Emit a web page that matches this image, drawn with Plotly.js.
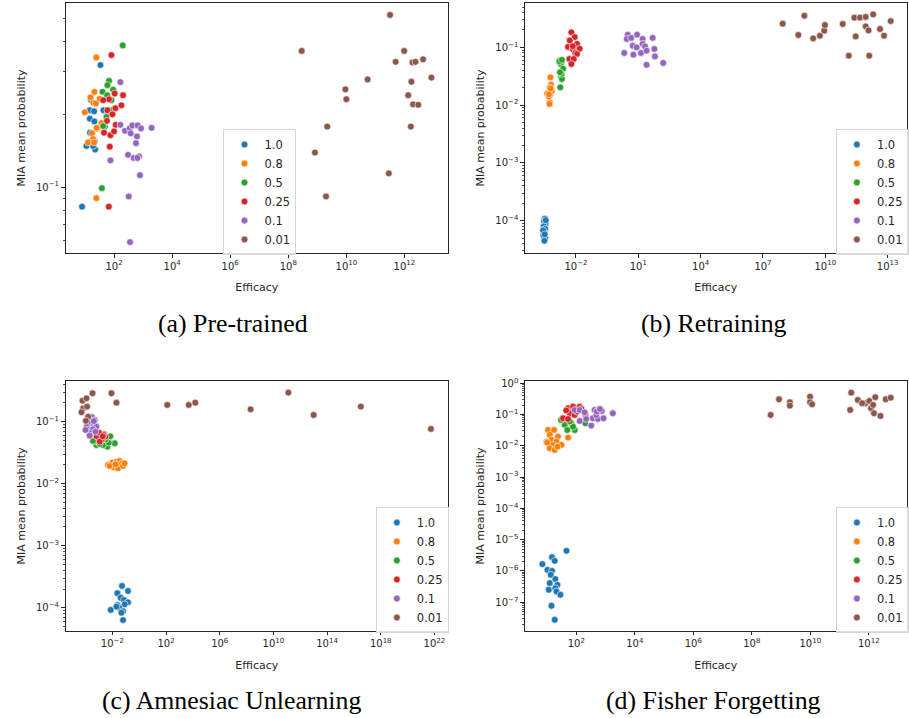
<!DOCTYPE html>
<html><head><meta charset="utf-8">
<script src="https://cdn.plot.ly/plotly-3.0.1.min.js"></script>
<style>html,body{margin:0;padding:0;background:#fff}#chart{width:909px;height:718px}</style>
</head><body><div id="chart"></div>
<script>
// ---------- series labels ----------
const seriesNames = ['1.0', '0.8', '0.5', '0.25', '0.1', '0.01'];

// ---------- (a) Pre-trained ----------
const pre_x_1_0 = [34, 14.6, 20.5, 14.6, 21, 16.6, 11.2, 22.3, 7.9, 43, 15.8, 19, 14.8, 21.5];
const pre_y_1_0 = [0.32, 0.208, 0.206, 0.192, 0.187, 0.167, 0.148, 0.143, 0.083, 0.208, 0.23, 0.148, 0.168, 0.155];
const pre_x_0_8 = [24.6, 21, 15.4, 19.4, 23.5, 9.8, 32, 27, 17.5, 19, 12.8, 20.4, 24.6, 37, 25, 57];
const pre_y_0_8 = [0.344, 0.248, 0.235, 0.223, 0.222, 0.204, 0.232, 0.175, 0.167, 0.158, 0.153, 0.153, 0.090, 0.184, 0.176, 0.199];
const pre_x_0_5 = [199, 67, 59, 40, 93, 81, 55, 48, 38, 71, 42, 85, 58];
const pre_y_0_5 = [0.386, 0.275, 0.264, 0.248, 0.253, 0.229, 0.195, 0.178, 0.099, 0.208, 0.179, 0.208, 0.24];
const pre_x_0_25 = [81, 105, 204, 67, 42, 179, 111, 59, 57, 114, 45, 75, 100, 71, 66, 88];
const pre_y_0_25 = [0.352, 0.244, 0.24, 0.231, 0.229, 0.218, 0.212, 0.208, 0.188, 0.181, 0.168, 0.164, 0.170, 0.147, 0.083, 0.2];
const pre_x_0_1 = [165, 165, 239, 346, 427, 650, 850, 1960, 373, 617, 571, 303, 473, 723, 634, 780, 75, 320, 355];
const pre_y_0_1 = [0.272, 0.181, 0.171, 0.175, 0.18, 0.18, 0.175, 0.176, 0.167, 0.162, 0.152, 0.136, 0.132, 0.134, 0.132, 0.112, 0.129, 0.0915, 0.0592];
const pre_x_0_01 = [3.2e11, 2.9e8, 9.8e11, 5.0e11, 1.9e12, 2.4e12, 4.4e12, 5.4e10, 8.5e12, 1.74e12, 9.3e9, 1.0e10, 1.35e12, 2.0e12, 3.0e12, 2.2e9, 1.66e12, 8.3e8, 2.9e11, 2.0e9];
const pre_y_0_01 = [0.516, 0.366, 0.366, 0.33, 0.328, 0.33, 0.338, 0.279, 0.284, 0.273, 0.254, 0.231, 0.240, 0.22, 0.219, 0.178, 0.178, 0.139, 0.114, 0.0915];

// ---------- (b) Retraining ----------
const ret_x_1_0 = [3.2e-4, 2.9e-4, 3.4e-4, 2.8e-4, 3.3e-4, 3.1e-4, 2.7e-4, 3.3e-4, 3.0e-4, 3.5e-4, 2.6e-4, 3.1e-4];
const ret_y_1_0 = [1.09e-4, 9.8e-5, 8.9e-5, 8.0e-5, 7.2e-5, 6.2e-5, 5.5e-5, 5.0e-5, 4.5e-5, 1.02e-4, 6.8e-5, 5.8e-5];
const ret_x_0_8 = [5.9e-4, 6.2e-4, 5.3e-4, 7.1e-4, 4.1e-4, 5.9e-4, 5.5e-4, 5.3e-4, 6.6e-4, 4.9e-4, 5.0e-4, 6.0e-4];
const ret_y_0_8 = [0.0303, 0.0227, 0.0199, 0.0179, 0.0158, 0.0152, 0.0112, 0.0105, 0.0174, 0.0142, 0.0155, 0.0195];
const ret_x_0_5 = [1.65e-3, 2.1e-3, 1.85e-3, 2.4e-3, 1.9e-3, 2.1e-3, 1.75e-3, 1.6e-3, 2.0e-3, 2.1e-3, 1.7e-3];
const ret_y_0_5 = [0.0596, 0.0573, 0.0515, 0.0428, 0.0316, 0.0284, 0.0204, 0.057, 0.0347, 0.061, 0.037];
const ret_x_0_25 = [6.0e-3, 8.7e-3, 5.0e-3, 1.12e-2, 4.1e-3, 6.9e-3, 1.5e-2, 9.3e-3, 1.12e-2, 4.8e-3, 7.8e-3, 6.0e-3, 7.0e-3];
const ret_y_0_25 = [0.182, 0.151, 0.132, 0.115, 0.102, 0.094, 0.095, 0.080, 0.077, 0.063, 0.063, 0.0516, 0.105];
const ret_x_0_1 = [3.1, 8.7, 2.8, 4.5, 16.2, 49, 5.4, 16.2, 8.3, 21, 59, 2.1, 5.8, 13.5, 25, 63, 25, 158];
const ret_y_0_1 = [0.166, 0.166, 0.14, 0.146, 0.14, 0.146, 0.107, 0.115, 0.1, 0.104, 0.094, 0.08, 0.0748, 0.08, 0.0877, 0.0698, 0.05, 0.0537];
const ret_x_0_01 = [8.9e7, 9.8e8, 5.0e8, 2.6e9, 5.5e9, 8.9e9, 9.6e9, 6.9e10, 2.5e11, 4.7e11, 8.8e11, 2.0e12, 8.8e11, 1.2e12, 2.9e11, 4.3e12, 6.7e12, 1.4e13, 1.35e11, 1.3e12];
const ret_y_0_01 = [0.257, 0.353, 0.164, 0.143, 0.159, 0.195, 0.244, 0.254, 0.327, 0.327, 0.336, 0.372, 0.231, 0.197, 0.155, 0.208, 0.159, 0.286, 0.0718, 0.0718];

// ---------- (c) Amnesiac Unlearning ----------
const amn_x_1_0 = [0.052, 0.145, 0.0235, 0.041, 0.073, 0.145, 0.0235, 0.082, 7.5e-3, 0.035, 0.062, 0.062, 0.02, 0.047];
const amn_y_1_0 = [2.24e-4, 1.86e-4, 1.71e-4, 1.45e-4, 1.33e-4, 1.22e-4, 1.10e-4, 1.13e-4, 9.2e-5, 9.8e-5, 8.8e-5, 6.3e-5, 1.04e-4, 8.3e-5];
const amn_x_0_8 = [4.7e-3, 0.01, 0.02, 0.035, 0.052, 0.013, 0.026, 0.061, 6.3e-3, 0.081, 0.017];
const amn_y_0_8 = [0.02, 0.0218, 0.0226, 0.0232, 0.0213, 0.0184, 0.0177, 0.0193, 0.0193, 0.0213, 0.0205];
const amn_x_0_5 = [0.0148, 4.3e-3, 3.6e-3, 2.0e-3, 6.4e-4, 5.5e-4, 5.3e-3, 1.14e-3, 3.2e-3, 3.6e-4, 7.0e-3];
const amn_y_0_5 = [0.0448, 0.0395, 0.0494, 0.042, 0.042, 0.0478, 0.0458, 0.0437, 0.052, 0.0489, 0.058];
const amn_x_0_25 = [1.35e-3, 2.4e-3, 8.5e-4, 1.7e-3, 6.4e-4, 1.14e-3, 3.0e-3, 2.2e-3, 1.0e-3, 1.9e-3];
const amn_y_0_25 = [0.0634, 0.0627, 0.056, 0.052, 0.0588, 0.0478, 0.0573, 0.061, 0.0665, 0.058];
const amn_x_0_1 = [3.0e-4, 4.9e-4, 2.0e-4, 4.3e-4, 1.2e-4, 6.4e-4, 1.7e-4, 3.6e-4, 2.4e-4, 5.5e-4, 1.0e-4, 2.0e-4, 4.1e-4];
const amn_y_0_1 = [0.118, 0.106, 0.0964, 0.0908, 0.083, 0.083, 0.0735, 0.0754, 0.065, 0.069, 0.0735, 0.0594, 0.102];
const amn_x_0_01 = [5.9e-5, 1.17e-4, 3.3e-4, 8.5e-3, 0.02, 6.6e-5, 1.3e-4, 5.0e-5, 1.55e-4, 1.05e-4, 122, 4.9e3, 1.5e4, 2.0e8, 1.3e11, 1.0e13, 3.3e16, 5.5e21];
const amn_y_0_01 = [0.218, 0.238, 0.287, 0.287, 0.202, 0.164, 0.175, 0.142, 0.12, 0.103, 0.186, 0.186, 0.202, 0.158, 0.294, 0.128, 0.175, 0.0762];

// ---------- (d) Fisher Forgetting ----------
const fis_x_1_0 = [46, 14.7, 18.2, 6.9, 10.3, 14.7, 13.3, 19.1, 12.3, 22.5, 11.4, 19.1, 20.9, 28.5, 14.1, 18.2];
const fis_y_1_0 = [4.4e-6, 2.75e-6, 2.1e-6, 1.65e-6, 1.08e-6, 1.0e-6, 7.5e-7, 5.5e-7, 4.1e-7, 3.6e-7, 2.5e-7, 2.8e-7, 2.2e-7, 1.73e-7, 7.7e-8, 2.75e-8];
const fis_x_0_8 = [10.8, 17.3, 12.3, 23.5, 14.1, 9.5, 20.9, 31, 15.9, 12.3, 18.2, 52, 22.5, 10];
const fis_y_0_8 = [0.0322, 0.0322, 0.0223, 0.0197, 0.0155, 0.0136, 0.0136, 0.0107, 0.0107, 0.0084, 0.0074, 0.0183, 0.0094, 0.0127];
const fis_x_0_5 = [35, 40, 68, 49, 88, 203, 77, 30, 60];
const fis_y_0_5 = [0.072, 0.0465, 0.0527, 0.032, 0.032, 0.0527, 0.041, 0.067, 0.06];
const fis_x_0_25 = [52, 77, 130, 59, 35, 52, 88, 203, 105, 45, 150];
const fis_y_0_25 = [0.159, 0.179, 0.179, 0.110, 0.076, 0.072, 0.097, 0.097, 0.124, 0.135, 0.15];
const fis_x_0_1 = [88, 130, 192, 420, 575, 740, 1770, 130, 218, 367, 547, 850, 324, 480, 500, 640];
const fis_y_0_1 = [0.14, 0.14, 0.118, 0.14, 0.14, 0.13, 0.110, 0.0625, 0.072, 0.076, 0.072, 0.076, 0.0442, 0.097, 0.124, 0.15];
const fis_x_0_01 = [4.4e8, 8.5e8, 2.0e9, 2.0e9, 9.8e9, 9.8e9, 1.15e10, 2.5e11, 4.2e11, 2.3e11, 7.6e11, 1.04e12, 1.18e12, 1.4e12, 1.66e12, 1.5e12, 2.5e12, 3.8e12, 5.6e12, 5.9e11];
const fis_y_0_01 = [0.097, 0.308, 0.247, 0.192, 0.373, 0.247, 0.213, 0.5, 0.292, 0.14, 0.23, 0.272, 0.159, 0.203, 0.357, 0.11, 0.09, 0.308, 0.347, 0.23];

// ---------- tick labels ----------
const a_xtick_vals = [1e2, 1e4, 1e6, 1e8, 1e10, 1e12];
const a_xtick_text = ['10<sup>2</sup>', '10<sup>4</sup>', '10<sup>6</sup>', '10<sup>8</sup>', '10<sup>10</sup>', '10<sup>12</sup>'];
const a_ytick_vals = [1e-1];
const a_ytick_text = ['10<sup>−1</sup>'];
const b_xtick_vals = [1e-2, 1e1, 1e4, 1e7, 1e10, 1e13];
const b_xtick_text = ['10<sup>−2</sup>', '10<sup>1</sup>', '10<sup>4</sup>', '10<sup>7</sup>', '10<sup>10</sup>', '10<sup>13</sup>'];
const b_ytick_vals = [1e-4, 1e-3, 1e-2, 1e-1];
const b_ytick_text = ['10<sup>−4</sup>', '10<sup>−3</sup>', '10<sup>−2</sup>', '10<sup>−1</sup>'];
const c_xtick_vals = [1e-2, 1e2, 1e6, 1e10, 1e14, 1e18, 1e22];
const c_xtick_text = ['10<sup>−2</sup>', '10<sup>2</sup>', '10<sup>6</sup>', '10<sup>10</sup>', '10<sup>14</sup>', '10<sup>18</sup>', '10<sup>22</sup>'];
const c_ytick_vals = [1e-4, 1e-3, 1e-2, 1e-1];
const c_ytick_text = ['10<sup>−4</sup>', '10<sup>−3</sup>', '10<sup>−2</sup>', '10<sup>−1</sup>'];
const d_xtick_vals = [1e2, 1e4, 1e6, 1e8, 1e10, 1e12];
const d_xtick_text = ['10<sup>2</sup>', '10<sup>4</sup>', '10<sup>6</sup>', '10<sup>8</sup>', '10<sup>10</sup>', '10<sup>12</sup>'];
const d_ytick_vals = [1e-7, 1e-6, 1e-5, 1e-4, 1e-3, 1e-2, 1e-1, 1e0];
const d_ytick_text = ['10<sup>−7</sup>', '10<sup>−6</sup>', '10<sup>−5</sup>', '10<sup>−4</sup>', '10<sup>−3</sup>', '10<sup>−2</sup>', '10<sup>−1</sup>', '10<sup>0</sup>'];

const captions = ['(a) Pre-trained', '(b) Retraining', '(c) Amnesiac Unlearning', '(d) Fisher Forgetting'];
const xTitle = 'Efficacy';
const yTitle = 'MIA mean probability';

// ---------- styling ----------
const palette = ['#1f77b4', '#ff7f0e', '#2ca02c', '#d62728', '#9467bd', '#8c564b'];
const sans = 'DejaVu Sans, sans-serif';
const ink = '#262626';

const traces = [];
function addPanel(xs, ys, xa, ya, leg) {
  for (let i = 0; i < seriesNames.length; i++) {
    traces.push({
      type: 'scatter', mode: 'markers', x: xs[i], y: ys[i], xaxis: xa, yaxis: ya,
      name: seriesNames[i], legend: leg, hoverinfo: 'x+y+name',
      marker: { color: palette[i], size: 6.8, line: { color: '#ffffff', width: 0.6 } }
    });
  }
}
addPanel([pre_x_1_0, pre_x_0_8, pre_x_0_5, pre_x_0_25, pre_x_0_1, pre_x_0_01],
         [pre_y_1_0, pre_y_0_8, pre_y_0_5, pre_y_0_25, pre_y_0_1, pre_y_0_01], 'x', 'y', 'legend');
addPanel([ret_x_1_0, ret_x_0_8, ret_x_0_5, ret_x_0_25, ret_x_0_1, ret_x_0_01],
         [ret_y_1_0, ret_y_0_8, ret_y_0_5, ret_y_0_25, ret_y_0_1, ret_y_0_01], 'x2', 'y2', 'legend2');
addPanel([amn_x_1_0, amn_x_0_8, amn_x_0_5, amn_x_0_25, amn_x_0_1, amn_x_0_01],
         [amn_y_1_0, amn_y_0_8, amn_y_0_5, amn_y_0_25, amn_y_0_1, amn_y_0_01], 'x3', 'y3', 'legend3');
addPanel([fis_x_1_0, fis_x_0_8, fis_x_0_5, fis_x_0_25, fis_x_0_1, fis_x_0_01],
         [fis_y_1_0, fis_y_0_8, fis_y_0_5, fis_y_0_25, fis_y_0_1, fis_y_0_01], 'x4', 'y4', 'legend4');

// minor log ticks (2..9 x 10^k) inside a log range
function minorTicks(lo, hi) {
  const out = [];
  for (let k = Math.floor(lo) - 1; k <= Math.ceil(hi); k++) {
    for (let d = 2; d <= 9; d++) {
      const v = d * Math.pow(10, k);
      const lv = Math.log10(v);
      if (lv > lo && lv < hi) out.push(v);
    }
  }
  return out;
}

function xAxis(domain, range, anchor, vals, text) {
  return {
    type: 'log', domain: domain, range: range, anchor: anchor, automargin: false,
    tickmode: 'array', tickvals: vals, ticktext: text,
    showline: true, mirror: true, linecolor: ink, linewidth: 1,
    ticks: 'outside', ticklen: 3.5, tickwidth: 1, tickcolor: ink,
    showgrid: false, zeroline: false,
    tickfont: { family: sans, size: 10, color: ink },
    title: { text: xTitle, font: { family: sans, size: 11, color: ink }, standoff: 12 }
  };
}
function yAxis(domain, range, anchor, vals, text) {
  return {
    type: 'log', domain: domain, range: range, anchor: anchor, automargin: false,
    tickmode: 'array', tickvals: vals, ticktext: text,
    showline: true, mirror: true, linecolor: ink, linewidth: 1,
    ticks: 'outside', ticklen: 3.5, tickwidth: 1, tickcolor: ink,
    minor: { tickmode: 'array', tickvals: minorTicks(range[0], range[1]), ticks: 'outside', ticklen: 2, tickwidth: 0.8, tickcolor: ink, showgrid: false },
    showgrid: false, zeroline: false,
    tickfont: { family: sans, size: 10, color: ink },
    title: { text: yTitle, font: { family: sans, size: 11, color: ink }, standoff: 8 }
  };
}

const leftDom = [0.0723, 0.4939];
const rightDom = [0.5787, 0.9995];
const topDom = [0.6476, 0.9958];
const botDom = [0.1212, 0.4694];

function legendBox(x, y) {
  return {
    x: x, y: y, xanchor: 'left', yanchor: 'middle',
    bgcolor: 'rgba(255,255,255,0.85)', bordercolor: '#d6d6d6', borderwidth: 1,
    font: { family: sans, size: 11.5, color: ink }, itemwidth: 30, tracegroupgap: 0
  };
}

const capFont = { family: 'Liberation Serif, serif', size: 25.8, color: '#000' };

const layout = {
  width: 909, height: 718,
  margin: { l: 0, r: 0, t: 0, b: 0 },
  paper_bgcolor: '#ffffff', plot_bgcolor: '#ffffff',
  showlegend: true,
  xaxis: xAxis(leftDom, [0.33, 13.5], 'y', a_xtick_vals, a_xtick_text),
  yaxis: yAxis(topDom, [-1.273, -0.238], 'x', a_ytick_vals, a_ytick_text),
  xaxis2: xAxis(rightDom, [-4.46, 13.91], 'y2', b_xtick_vals, b_xtick_text),
  yaxis2: yAxis(topDom, [-4.559, -0.232], 'x2', b_ytick_vals, b_ytick_text),
  xaxis3: xAxis(leftDom, [-5.49, 23.01], 'y3', c_xtick_vals, c_xtick_text),
  yaxis3: yAxis(botDom, [-4.376, -0.344], 'x3', c_ytick_vals, c_ytick_text),
  xaxis4: xAxis(rightDom, [0.24, 13.29], 'y4', d_xtick_vals, d_xtick_text),
  yaxis4: yAxis(botDom, [-7.92, 0.073], 'x4', d_ytick_vals, d_ytick_text),
  legend: legendBox(0.2464, 1 - 192 / 718),
  legend2: legendBox(0.9216, 1 - 192 / 718),
  legend3: legendBox(0.4144, 1 - 570 / 718),
  legend4: legendBox(0.9216, 1 - 570 / 718),
  annotations: [
    { text: captions[0], xref: 'paper', yref: 'paper', x: 0.257, y: 0.550, xanchor: 'center', yanchor: 'middle', showarrow: false, font: capFont },
    { text: captions[1], xref: 'paper', yref: 'paper', x: 0.787, y: 0.550, xanchor: 'center', yanchor: 'middle', showarrow: false, font: capFont },
    { text: captions[2], xref: 'paper', yref: 'paper', x: 0.255, y: 0.025, xanchor: 'center', yanchor: 'middle', showarrow: false, font: capFont },
    { text: captions[3], xref: 'paper', yref: 'paper', x: 0.787, y: 0.025, xanchor: 'center', yanchor: 'middle', showarrow: false, font: capFont }
  ]
};

Plotly.newPlot('chart', traces, layout, { displayModeBar: false, staticPlot: true });
</script></body></html>
